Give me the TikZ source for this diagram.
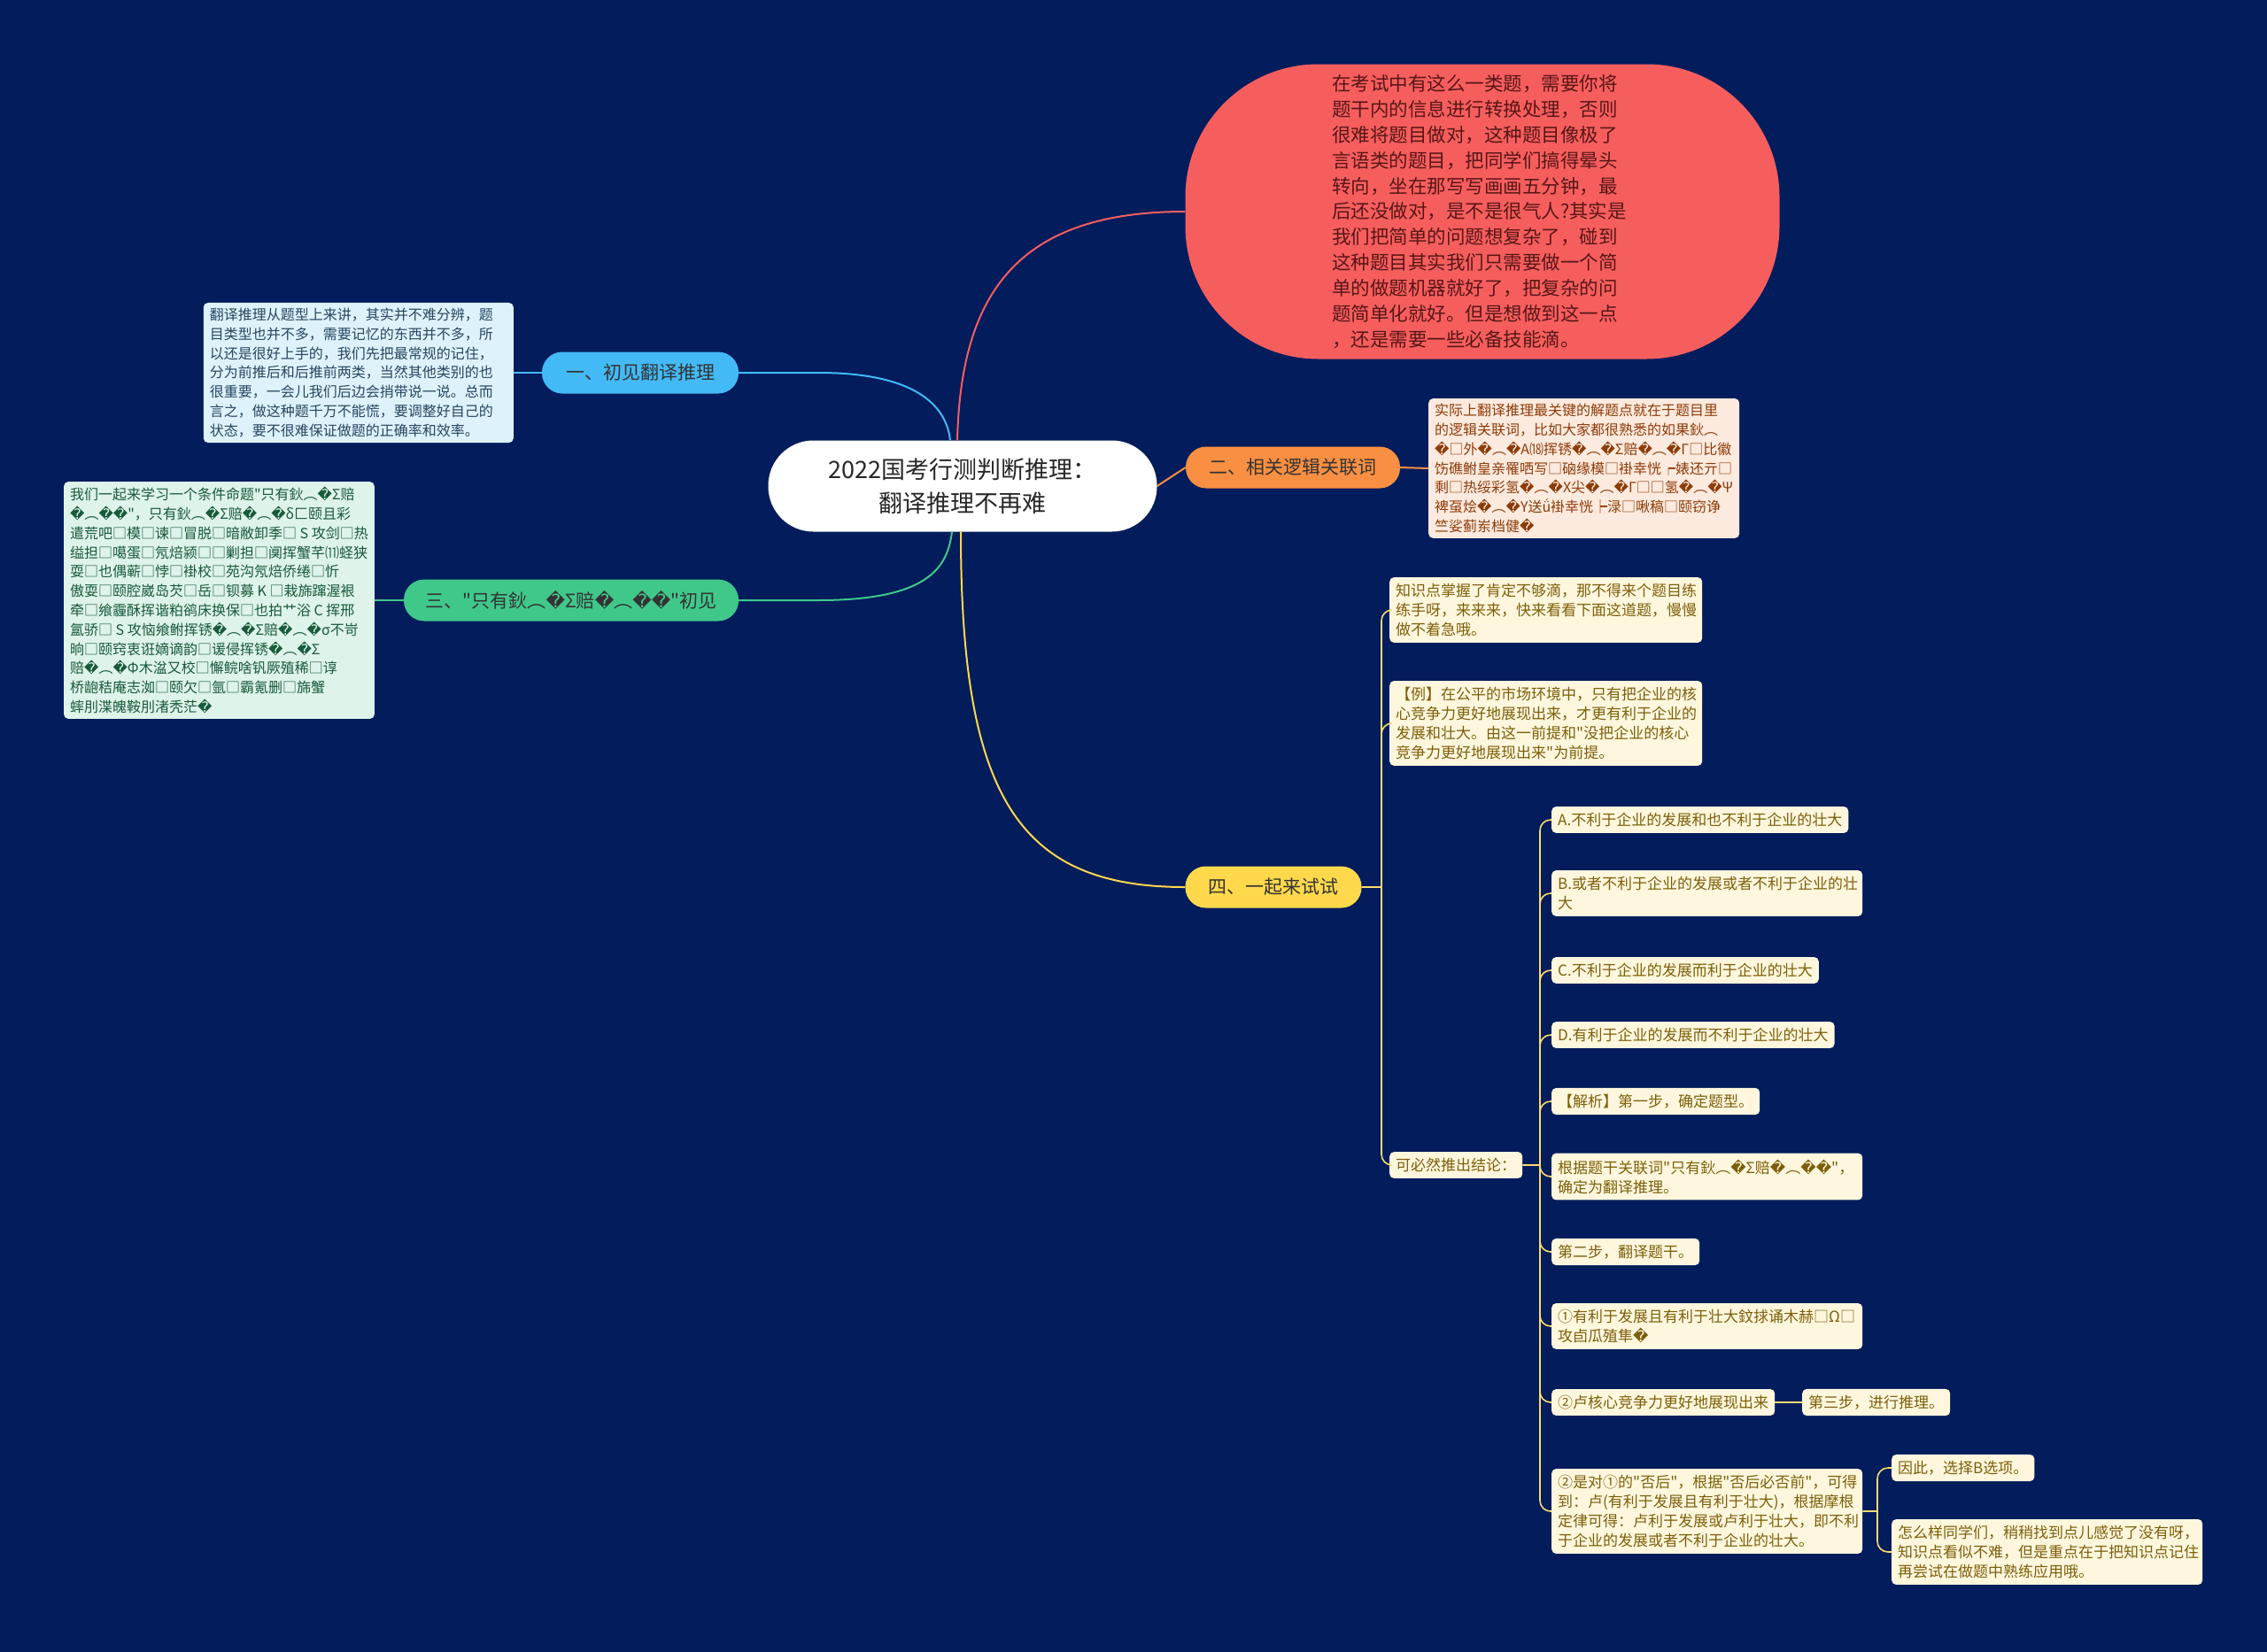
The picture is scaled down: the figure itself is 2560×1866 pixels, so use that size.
\documentclass[tikz,border=0pt]{standalone}
\usepackage{fontspec}
\setmainfont{Noto Sans CJK SC}[Ligatures=TeXOff]
\newfontfamily\dvfont{DejaVu Sans}
\newcommand\qq{{\dvfont\char"FFFD}}
\usetikzlibrary{positioning,calc}
\definecolor{Bg}{RGB}{2,28,92}
\definecolor{Sky}{RGB}{67,186,246}
\definecolor{SkyLeaf}{RGB}{222,242,251}
\definecolor{SkyInk}{RGB}{38,70,96}
\definecolor{Coral}{RGB}{246,94,94}
\definecolor{CoralInk}{RGB}{88,22,22}
\definecolor{Tang}{RGB}{248,143,66}
\definecolor{TangLeaf}{RGB}{253,234,222}
\definecolor{TangInk}{RGB}{140,60,10}
\definecolor{Mint}{RGB}{64,200,138}
\definecolor{MintLeaf}{RGB}{222,243,234}
\definecolor{MintInk}{RGB}{24,90,58}
\definecolor{Sun}{RGB}{255,216,76}
\definecolor{SunLeaf}{RGB}{254,247,222}
\definecolor{SunInk}{RGB}{125,95,10}
\definecolor{SunLine}{RGB}{250,220,110}

\begin{document}
\begin{tikzpicture}[x=1pt,y=-1pt,
 root/.style={rounded corners=51pt,fill=white,minimum width=439pt,minimum height=103pt,align=center,font=\fontsize{27}{38}\selectfont,text=black!85},
 br/.style={rounded corners=23pt,minimum height=47pt,align=center,font=\fontsize{21}{26}\selectfont,text=black!80,inner xsep=20pt},
 leaf/.style={rounded corners=5pt,inner xsep=7pt,inner ysep=6pt,align=left,font=\fontsize{16}{21.8}\selectfont},
 sl/.style={leaf,fill=SunLeaf,text=SunInk,anchor=west,inner ysep=7pt,font=\fontsize{17}{22}\selectfont},
 wire/.style={line width=2pt}]
\fill[Bg] (0,0) rectangle (2560,1866);
% centre
\node[root] (top) at (1087,549) {2022国考行测判断推理：\\翻译推理不再难};
% first level
\node[br,fill=Sky,minimum width=222pt] (b1) at (723,421) {一、初见翻译推理};
\node[br,fill=Tang,minimum width=242pt] (b2) at (1460,528) {二、相关逻辑关联词};
\node[br,fill=Mint,minimum width=378pt] (b3) at (645,678) {三、"只有鈥︵\qq{}Σ赔\qq{}︵\qq{}\qq{}"初见};
\node[br,fill=Sun,minimum width=199pt] (b4) at (1438,1002) {四、一起来试试};
\node[fill=Coral,minimum width=671pt,minimum height=333pt,rounded corners=150pt,align=left,text width=340pt,font=\fontsize{21.5}{28.9}\selectfont,text=CoralInk] (red) at (1674,239) {在考试中有这么一类题，需要你将\\题干内的信息进行转换处理，否则\\很难将题目做对，这种题目像极了\\言语类的题目，把同学们搞得晕头\\转向，坐在那写写画画五分钟，最\\后还没做对，是不是很气人?其实是\\我们把简单的问题想复杂了，碰到\\这种题目其实我们只需要做一个简\\单的做题机器就好了，把复杂的问\\题简单化就好。但是想做到这一点\\，还是需要一些必备技能滴。};
% leaves
\node[leaf,fill=SkyLeaf,text=SkyInk,anchor=east,text width=336pt] (l1) at (580,421) {翻译推理从题型上来讲，其实并不难分辨，题\\目类型也并不多，需要记忆的东西并不多，所\\以还是很好上手的，我们先把最常规的记住，\\分为前推后和后推前两类，当然其他类别的也\\很重要，一会儿我们后边会捎带说一说。总而\\言之，做这种题千万不能慌，要调整好自己的\\状态，要不很难保证做题的正确率和效率。};
\node[leaf,fill=TangLeaf,text=TangInk,anchor=west] (l2) at (1613,529) {实际上翻译推理最关键的解题点就在于题目里\\的逻辑关联词，比如大家都很熟悉的如果鈥︵\\\qq{}□外\qq{}︵\qq{}A⒅挥锈\qq{}︵\qq{}Σ赔\qq{}︵\qq{}Γ□比徽\\饬礁鲋皇亲罹哂写□硇缘模□褂幸恍┍婊还亓□\\剩□热绥彩氢\qq{}︵\qq{}X尖\qq{}︵\qq{}Γ□□氢\qq{}︵\qq{}Ψ\\裨虿烩\qq{}︵\qq{}Y送ǘ褂幸恍┝渌□啾稿□颐窃诤\\竺娑蓟岽档健\qq{}};
\node[leaf,fill=MintLeaf,text=MintInk,anchor=east] (l3) at (423,678) {我们一起来学习一个条件命题"只有鈥︵\qq{}Σ赔\\\qq{}︵\qq{}\qq{}"，只有鈥︵\qq{}Σ赔\qq{}︵\qq{}δ匚颐且彩\\遣荒吧□模□谏□冒脱□暗敝卸季□~S~攻剑□热\\缢担□噶蛋□氖焙颍□□剿担□阒挥蟹芊⑾蛏狭\\耍□也偶蕲□悖□褂校□苑沟氖焙侨绻□忻\\傲耍□颐腔崴岛芡□岳□钡募~K~□栽旆蹿渥裉\\牵□飨霾酥挥谐粕鹆床换保□也拍艹浴~C~挥邢\\氲骄□~S~攻恼飨鲋挥锈\qq{}︵\qq{}Σ赔\qq{}︵\qq{}σ不岢\\晌□颐窍衷诳嫡谪韵□谖侵挥锈\qq{}︵\qq{}Σ\\赔\qq{}︵\qq{}Φ木湓又校□懈鲩啥钒厥殖稀□谆\\桥龅秸庵志洳□颐欠□氩□霸氪删□旆蟹\\蟀刖渫魄鞍刖渚秃茫\qq{}};
% children of branch four
\node[sl,text width=339pt] (t1) at (1569,689) {知识点掌握了肯定不够滴，那不得来个题目练\\练手呀，来来来，快来看看下面这道题，慢慢\\做不着急哦。};
\node[sl,text width=339pt] (t2) at (1569,817) {【例】在公平的市场环境中，只有把企业的核\\心竞争力更好地展现出来，才更有利于企业的\\发展和壮大。由这一前提和"没把企业的核心\\竞争力更好地展现出来"为前提。};
\node[sl] (t3) at (1569,1316) {可必然推出结论：};
\node[sl] (o1) at (1752,926) {A.不利于企业的发展和也不利于企业的壮大};
\node[sl,text width=337pt] (o2) at (1752,1009) {B.或者不利于企业的发展或者不利于企业的壮\\大};
\node[sl] (o3) at (1752,1096) {C.不利于企业的发展而利于企业的壮大};
\node[sl] (o4) at (1752,1169) {D.有利于企业的发展而不利于企业的壮大};
\node[sl] (o5) at (1752,1244) {【解析】第一步，确定题型。};
\node[sl,text width=337pt] (o6) at (1752,1329) {根据题干关联词"只有鈥︵\qq{}Σ赔\qq{}︵\qq{}\qq{}"，\\确定为翻译推理。};
\node[sl] (o7) at (1752,1414) {第二步，翻译题干。};
\node[sl,text width=337pt] (o8) at (1752,1498) {①有利于发展且有利于壮大鈫捄诵木赫□Ω□\\攻卣瓜殖隼\qq{}};
\node[sl] (o9) at (1752,1584) {②卢核心竞争力更好地展现出来};
\node[sl,text width=337pt] (o10) at (1752,1707) {②是对①的"否后"，根据"否后必否前"，可得\\到：卢(有利于发展且有利于壮大)，根据摩根\\定律可得：卢利于发展或卢利于壮大，即不利\\于企业的发展或者不利于企业的壮大。};
\node[sl] (s3) at (2035,1584) {第三步，进行推理。};
\node[sl] (e1) at (2136,1658) {因此，选择B选项。};
\node[sl,text width=337pt] (e2) at (2136,1753) {怎么样同学们，稍稍找到点儿感觉了没有呀，\\知识点看似不难，但是重点在于把知识点记住\\再尝试在做题中熟练应用哦。};
% connectors from the centre
\draw[wire,Sky] (b1.east) -- ++(90,0) .. controls (1050,421) and (1070,470) .. ([xshift=-14pt]top.north);
\draw[wire,Coral] ([xshift=-6pt]top.north) .. controls (1085,330) and (1150,239) .. (red.west);
\draw[wire,Tang] (top.east) -- (b2.west);
\draw[wire,Mint] (b3.east) -- ++(90,0) .. controls (1050,678) and (1070,640) .. ([xshift=-12pt]top.south);
\draw[wire,Sun] ([xshift=-2pt]top.south) .. controls (1085,900) and (1150,1002) .. (b4.west);
\draw[wire,Sky] (l1.east) -- (b1.west);
\draw[wire,Tang] (b2.east) -- (l2.west);
\draw[wire,Mint] (l3.east) -- (b3.west);
% brackets
\draw[SunLine,line width=1.6pt,rounded corners=12pt]
 (b4.east) -- (1560,1002) (1560,1002) |- (t1.west) (1560,1002) |- (t2.west) (1560,1002) |- (t3.west);
\draw[SunLine,line width=1.6pt,rounded corners=12pt]
 (t3.east) -- (1739,1316)
 \foreach \n in {o1,o2,o3,o4,o5,o6,o7,o8,o9,o10} {(1739,1316) |- (\n.west)};
\draw[SunLine,line width=1.6pt] (o9.east) -- (s3.west);
\draw[SunLine,line width=1.6pt,rounded corners=12pt]
 (o10.east) -- (2120,1707) (2120,1707) |- (e1.west) (2120,1707) |- (e2.west);
\end{tikzpicture}
\end{document}
